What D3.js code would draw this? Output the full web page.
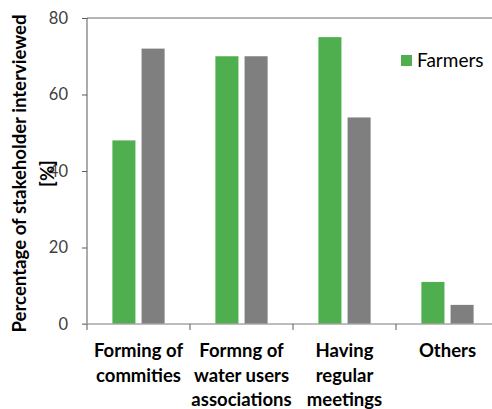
<!DOCTYPE html>
<html>
<head>
<meta charset="utf-8">
<script src="https://cdn.jsdelivr.net/npm/d3@7"></script>
<style>
html,body{margin:0;padding:0;background:#fff;}
svg{display:block;}
text{font-family:Lato, "Liberation Sans", sans-serif;}
</style>
</head>
<body>
<svg id="chart" width="492" height="409"></svg>
<script>
const categories = ["Forming of commities", "Formng of water users associations", "Having regular meetings", "Others"];
const categoryLines = [["Forming of", "commities"], ["Formng of", "water users", "associations"], ["Having", "regular", "meetings"], ["Others"]];
const seriesNames = ["Farmers", "Others group"];
const farmers = [48, 70, 75, 11];
const secondGroup = [72, 70, 54, 5];
const yTicks = [0, 20, 40, 60, 80];
const legendLabels = ["Farmers"];

const svg = d3.select("#chart");
const plotLeft = 87, plotRight = 499, plotTop = 18, plotBottom = 324;

const x = d3.scaleBand().domain(categories).range([plotLeft, plotRight]).paddingInner(0).paddingOuter(0);
const xi = d3.scaleBand().domain(seriesNames).range([0, x.bandwidth()]).paddingInner(0.21).paddingOuter(0.87);
const y = d3.scaleLinear().domain([0, 80]).range([plotBottom, plotTop]);
const colors = d3.scaleOrdinal().domain(seriesNames).range(["#4FAF4F", "#7F7F7F"]);

// plot frame (top border)
svg.append("line").attr("x1", plotLeft).attr("x2", plotRight).attr("y1", plotTop).attr("y2", plotTop)
  .attr("stroke", "#6b6b6b").attr("stroke-width", 1);

const data = categories.map((c, i) => ({cat: c, vals: [
  {s: seriesNames[0], v: farmers[i]}, {s: seriesNames[1], v: secondGroup[i]}]}));

const g = svg.append("g");
data.forEach(d => {
  g.selectAll(null).data(d.vals).enter().append("rect")
    .attr("x", v => x(d.cat) + xi(v.s))
    .attr("width", xi.bandwidth())
    .attr("y", v => y(v.v))
    .attr("height", v => y(0) - y(v.v))
    .attr("fill", v => colors(v.s));
});

// y axis
const yAxis = d3.axisLeft(y).tickValues(yTicks).tickSize(5).tickPadding(14);
const ya = svg.append("g").attr("transform", `translate(${plotLeft},0)`).call(yAxis);
ya.select(".domain").attr("stroke", "#595959").attr("d", `M0,${plotTop}V${plotBottom}`);
ya.selectAll(".tick line").attr("stroke", "#595959");
ya.selectAll(".tick text").attr("fill", "#404040").style("font-size", "16.5px").style("font-family", "Lato, sans-serif");

// x axis
const xa = svg.append("g").attr("transform", `translate(0,${plotBottom})`);
xa.append("line").attr("x1", plotLeft - 5).attr("x2", plotRight).attr("y1", 0).attr("y2", 0)
  .attr("stroke", "#a6a6a6").attr("stroke-width", 1.5);
categories.forEach((c, i) => {
  const tx = x(c);
  xa.append("line").attr("x1", tx).attr("x2", tx).attr("y1", 0).attr("y2", 6).attr("stroke", "#595959");
  const t = xa.append("text").attr("text-anchor", "middle").attr("fill", "#000")
    .style("font-size", "18.5px").style("font-weight", "bold");
  categoryLines[i].forEach((ln, k) => {
    t.append("tspan").attr("x", tx + x.bandwidth() / 2).attr("y", 33 + k * 24.5).text(ln);
  });
});

// y title
const yt = svg.append("text").attr("transform", "translate(25.5,173.5) rotate(-90)")
  .attr("text-anchor", "middle").style("font-size", "18.6px").style("font-weight", "bold")
  .attr("fill", "#000");
yt.append("tspan").attr("x", 0).attr("y", 0).text("Percentage of stakeholder interviewed");
yt.append("tspan").attr("x", 0).attr("y", 28).text("[%]");

// legend
const lg = svg.append("g").attr("transform", "translate(401,55)");
legendLabels.forEach((l, i) => {
  lg.append("rect").attr("x", 0).attr("y", 0).attr("width", 11).attr("height", 11).attr("fill", colors(l));
  lg.append("text").attr("x", 16).attr("y", 12).style("font-size", "19px").attr("fill", "#000").text(l);
});
</script>
</body>
</html>
